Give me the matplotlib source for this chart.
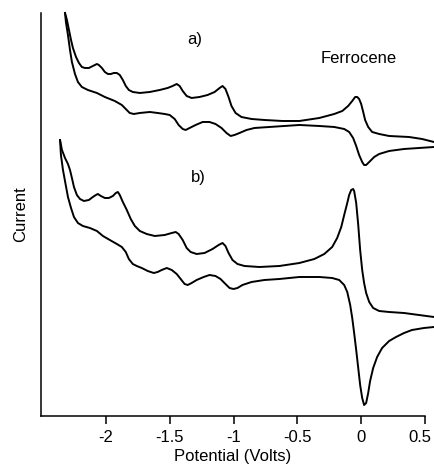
import matplotlib.pyplot as plt
from matplotlib.transforms import ScaledTranslation

plt.rcParams['font.family'] = ['Liberation Sans', 'DejaVu Sans']

# a) two branches of the voltammogram (potential in V, current in arbitrary units)
a_top_v = [-2.320, -2.305, -2.289, -2.273, -2.258, -2.234, -2.211, -2.188, -2.164, -2.133,
           -2.102, -2.070, -2.055, -2.031, -2.008, -1.984, -1.961, -1.938, -1.914, -1.891,
           -1.867, -1.844, -1.820, -1.789, -1.734, -1.656, -1.578, -1.516, -1.477, -1.445,
           -1.422, -1.398, -1.367, -1.328, -1.266, -1.203, -1.148, -1.109, -1.086, -1.063,
           -1.039, -1.016, -0.984, -0.938, -0.859, -0.758, -0.617, -0.484, -0.328, -0.211,
           -0.148, -0.102, -0.070, -0.047, -0.031, -0.016, 0.0, 0.016, 0.031, 0.055,
           0.086, 0.141, 0.219, 0.375, 0.477, 0.570]
a_top_i = [40.3, 39.6, 38.6, 37.6, 36.8, 35.9, 35.3, 34.9, 34.8, 34.8,
           35.0, 35.2, 35.1, 34.8, 34.4, 34.2, 34.2, 34.3, 34.3, 34.1,
           33.6, 33.0, 32.6, 32.4, 32.3, 32.4, 32.6, 32.8, 33.0, 33.2,
           33.0, 32.5, 32.0, 31.8, 31.9, 32.1, 32.4, 32.8, 33.0, 32.7,
           31.9, 31.0, 30.3, 29.9, 29.7, 29.6, 29.5, 29.5, 29.8, 30.2,
           30.5, 31.0, 31.5, 31.9, 31.9, 31.7, 31.2, 30.4, 29.6, 28.9,
           28.4, 28.2, 28.0, 27.9, 27.7, 27.4]

a_bot_v = [-2.320, -2.313, -2.297, -2.281, -2.266, -2.242, -2.219, -2.188, -2.141, -2.070,
           -2.008, -1.930, -1.875, -1.844, -1.813, -1.781, -1.734, -1.656, -1.594, -1.539,
           -1.500, -1.461, -1.430, -1.398, -1.375, -1.344, -1.297, -1.242, -1.188, -1.141,
           -1.094, -1.055, -1.023, -0.992, -0.953, -0.898, -0.836, -0.719, -0.484, -0.328,
           -0.211, -0.133, -0.094, -0.063, -0.039, -0.016, 0.008, 0.023, 0.039, 0.063,
           0.102, 0.141, 0.219, 0.336, 0.453, 0.570]
a_bot_i = [40.3, 39.4, 38.1, 36.6, 35.4, 34.2, 33.4, 32.9, 32.6, 32.3,
           31.9, 31.5, 31.1, 30.7, 30.3, 30.2, 30.3, 30.4, 30.3, 30.2,
           30.1, 29.7, 29.1, 28.7, 28.6, 28.8, 29.1, 29.4, 29.4, 29.2,
           28.8, 28.3, 28.0, 28.1, 28.3, 28.6, 28.8, 28.9, 29.1, 29.0,
           28.9, 28.7, 28.4, 27.8, 27.0, 26.1, 25.4, 25.1, 25.1, 25.4,
           25.9, 26.2, 26.5, 26.7, 26.8, 26.9]

# b)
b_top_v = [-2.359, -2.344, -2.320, -2.297, -2.281, -2.266, -2.250, -2.227, -2.203, -2.172,
           -2.133, -2.102, -2.078, -2.063, -2.039, -2.008, -1.977, -1.945, -1.922, -1.906,
           -1.891, -1.867, -1.836, -1.805, -1.773, -1.734, -1.680, -1.617, -1.539, -1.484,
           -1.453, -1.430, -1.398, -1.367, -1.336, -1.289, -1.227, -1.164, -1.117, -1.086,
           -1.063, -1.039, -1.008, -0.969, -0.914, -0.797, -0.641, -0.484, -0.367, -0.289,
           -0.227, -0.188, -0.156, -0.133, -0.109, -0.094, -0.078, -0.063, -0.055, -0.039,
           -0.023, -0.008, 0.008, 0.023, 0.039, 0.063, 0.094, 0.141, 0.219, 0.336,
           0.453, 0.570]
b_top_i = [27.6, 26.6, 25.8, 25.2, 24.6, 23.8, 22.9, 22.1, 21.7, 21.5,
           21.6, 21.9, 22.1, 22.2, 22.0, 21.8, 21.8, 22.0, 22.3, 22.4,
           22.1, 21.4, 20.6, 19.7, 19.0, 18.5, 18.2, 18.0, 18.1, 18.3,
           18.4, 18.2, 17.6, 16.8, 16.4, 16.2, 16.3, 16.7, 17.1, 17.3,
           17.0, 16.3, 15.6, 15.2, 15.0, 14.9, 15.0, 15.3, 15.7, 16.2,
           16.9, 17.8, 18.9, 20.1, 21.3, 22.1, 22.6, 22.7, 22.5, 21.3,
           19.1, 16.6, 14.6, 13.3, 12.3, 11.4, 10.8, 10.5, 10.4, 10.3,
           10.1, 9.9]

b_bot_v = [-2.359, -2.352, -2.336, -2.313, -2.297, -2.273, -2.250, -2.219, -2.180, -2.125,
           -2.070, -2.023, -1.969, -1.914, -1.875, -1.844, -1.820, -1.789, -1.758, -1.719,
           -1.672, -1.625, -1.594, -1.563, -1.523, -1.484, -1.445, -1.414, -1.383, -1.359,
           -1.328, -1.289, -1.234, -1.188, -1.141, -1.102, -1.063, -1.031, -1.000, -0.969,
           -0.930, -0.859, -0.758, -0.641, -0.484, -0.328, -0.227, -0.172, -0.133, -0.109,
           -0.086, -0.070, -0.055, -0.039, -0.023, -0.008, 0.008, 0.023, 0.039, 0.055,
           0.070, 0.094, 0.125, 0.164, 0.219, 0.273, 0.336, 0.398, 0.492, 0.570]
b_bot_i = [27.6, 26.1, 24.6, 23.0, 21.9, 20.8, 19.9, 19.3, 19.0, 18.8,
           18.5, 18.0, 17.6, 17.2, 16.9, 16.4, 15.7, 15.2, 15.0, 14.8,
           14.5, 14.3, 14.4, 14.6, 14.8, 14.6, 14.2, 13.7, 13.2, 13.1,
           13.3, 13.6, 13.9, 14.1, 14.0, 13.7, 13.2, 12.8, 12.7, 12.8,
           13.1, 13.4, 13.6, 13.7, 13.9, 13.9, 13.8, 13.6, 13.1, 12.4,
           11.1, 9.8, 8.3, 6.6, 4.8, 3.1, 1.8, 1.1, 1.3, 2.3,
           3.5, 4.8, 5.9, 6.8, 7.5, 7.9, 8.3, 8.6, 8.8, 8.9]

xticks = [-2, -1.5, -1, -0.5, 0, 0.5]
xticklabels = ['-2', '-1.5', '-1', '-0.5', '0', '0.5']

fig = plt.figure(figsize=(4.35, 4.67), dpi=100)
ax = fig.add_axes([0.0943, 0.1092, 0.8827, 0.8630])

for v, i in [(a_top_v, a_top_i), (a_bot_v, a_bot_i), (b_top_v, b_top_i), (b_bot_v, b_bot_i)]:
    ax.plot(v, i, color='black', lw=1.4, solid_joinstyle='round', clip_on=False)

ax.set_xlim(-2.508, 0.5)
ax.set_ylim(0, 40.3)
ax.set_xticks(xticks)
ax.set_xticklabels(xticklabels, fontsize=12)
ax.set_yticks([])
ax.tick_params(axis='x', direction='out', length=6, width=1.1, pad=4)
ax.spines['top'].set_visible(False)
ax.spines['right'].set_visible(False)
ax.spines['left'].set_linewidth(1.1)
ax.spines['bottom'].set_linewidth(1.1)

# last label sits a bit left of its tick so it stays inside the figure
last = ax.get_xticklabels()[-1]
last.set_transform(last.get_transform() + ScaledTranslation(-5 / 100, 0, fig.dpi_scale_trans))

ax.text(-1.305, 37.6, 'a)', fontsize=12, ha='center', va='center')
ax.text(-1.273, 23.8, 'b)', fontsize=12, ha='center', va='center')
ax.text(-0.02, 35.7, 'Ferrocene', fontsize=12, ha='center', va='center')

ax.set_xlabel('Potential (Volts)', fontsize=12, labelpad=3)
ax.set_ylabel('Current', fontsize=12, labelpad=9)

fig.savefig('out.png', dpi=100)
